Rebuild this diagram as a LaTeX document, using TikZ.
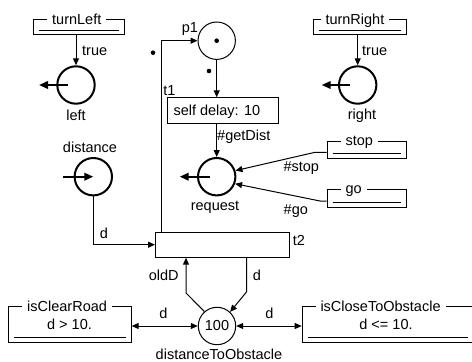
\documentclass[tikz,border=0pt]{standalone}
\usepackage{fontspec}
\setmainfont{Liberation Sans}
\usetikzlibrary{arrows.meta,calc}
\begin{document}
\begin{tikzpicture}[x=1pt,y=-1pt,
  every node/.style={font=\fontsize{14.5}{17}\selectfont, inner sep=0pt},
  >={Triangle[length=7pt,width=6pt]},
  line width=1pt,
  place/.style={draw,circle,minimum size=37.4pt,line width=1pt},
  extplace/.style={draw,circle,minimum size=37.4pt,line width=2pt},
  trans/.style={draw,rectangle,line width=1pt,anchor=north west},
  token/.style={circle,fill,minimum size=4.6pt},
  iface/.style={fill=white,inner xsep=5pt,inner ysep=1pt,anchor=base west},
  lbl/.style={anchor=base},
  lblw/.style={anchor=base west},
  portarrow/.style={line width=2pt,-{Triangle[length=9pt,width=7.5pt]}},
]
\useasboundingbox (0,0) rectangle (472,362);
\clip (0,0) rectangle (472,362);

% ---------- interface boxes ----------
\node[trans,minimum width=91pt,minimum height=15.3pt] (tl) at (33,19) {};
\draw ($(tl.south west)+(6,-5)$) -- ($(tl.south east)+(-6,-5)$);
\node[iface] (tltxt) at (46.7,24.5) {turnLeft};

\node[trans,minimum width=92.7pt,minimum height=15.3pt] (tr) at (313.3,19) {};
\draw ($(tr.south west)+(6,-5)$) -- ($(tr.south east)+(-6,-5)$);
\node[iface] (trtxt) at (320,24.5) {turnRight};

\node[trans,minimum width=79.3pt,minimum height=17.6pt] (stop) at (326.7,140.7) {};
\draw ($(stop.south west)+(6,-6)$) -- ($(stop.south east)+(-6,-6)$);
\node[iface] (stoptxt) at (340,145.5) {stop};

\node[trans,minimum width=79.3pt,minimum height=18.3pt] (go) at (326.7,189) {};
\draw ($(go.south west)+(6,-6.3)$) -- ($(go.south east)+(-6,-6.3)$);
\node[iface] (gotxt) at (340,193) {go};

\node[trans,minimum width=122.4pt,minimum height=35.7pt] (icr) at (8.3,306) {};
\draw ($(icr.south west)+(6,-5.7)$) -- ($(icr.south east)+(-6,-5.7)$);
\node[iface] (icrtxt) at (21.7,311.5) {isClearRoad};
\node[lbl] (icrg) at (69.5,329.3) {d > 10.};

\node[trans,minimum width=171.7pt,minimum height=35.7pt] (ico) at (301.7,306) {};
\draw ($(ico.south west)+(6,-5.7)$) -- ($(ico.south east)+(-6,-5.7)$);
\node[iface] (icotxt) at (315,311.5) {isCloseToObstacle};
\node[lbl] (icog) at (386,329.3) {d <= 10.};

% ---------- places ----------
\node[extplace] (left) at (76,85) {};
\node[lbl] (leftl) at (76,120) {left};
\node[extplace] (right) at (357.7,85) {};
\node[lbl] (rightl) at (362,119.5) {right};
\node[place] (p1) at (216.7,40.7) {};
\node[lbl] (p1l) at (190,32.7) {p1};
\node[token] (tok1) at (p1.center) {};
\node[extplace] (request) at (216.7,176.7) {};
\node[lbl] (requestl) at (215,210) {request};
\node[extplace] (distance) at (93.3,176.7) {};
\node[lbl] (distancel) at (90,152.7) {distance};
\node[place] (dto) at (217,326) {100};
\node[lbl] (dtol) at (219,359) {distanceToObstacle};

% ---------- transitions ----------
\node[trans,minimum width=111pt,minimum height=25.4pt] (t1) at (167,97.3) {};
\node[lblw] (t1txt) at (173,115) {self delay: 10};
\node[lbl] (t1l) at (169.5,95) {t1};
\node[trans,minimum width=134.3pt,minimum height=25pt] (t2) at (155,231.7) {};
\node[lbl] (t2l) at (299,245) {t2};

% ---------- connectors ----------
\draw[->] (left.north |- tl.south) -- (left.north);
\node[lblw] (true1) at (81.7,55) {true};
\draw[->] (right.north |- tr.south) -- (right.north);
\node[lblw] (true2) at (361.7,55) {true};

\draw[portarrow] ([xshift=-8pt]left.center) -- ([xshift=-37pt]left.center);
\draw[portarrow] ([xshift=-8pt]right.center) -- ([xshift=-36pt]right.center);
\draw[portarrow] ([xshift=-7pt]request.center) -- ([xshift=-37pt]request.center);
\draw[portarrow] ([xshift=-30pt]distance.center) -- (distance.center);

\draw[->] ($(t2.north west)+(6,0)$) |- (p1.west);
\node[token] (tok2) at (153,52.7) {};
\draw[->] (p1.south) -- (p1.south |- t1.north);
\node[token] (tok3) at (209,71) {};

\draw[->] (request.north |- t1.south) -- (request.north);
\node[lblw] (getd) at (216.7,140) {\#getDist};

\coordinate (sb) at (315,152.3);
\draw[->] (stop.west |- sb) -- (sb) -- (request.18);
\node[lbl] (stopl) at (301.3,171) {\#stop};
\coordinate (gb) at (320,201);
\draw[->] (go.west |- gb) -- (gb) -- (request.-21);
\node[lbl] (gol) at (295.8,214) {\#go};

\draw[->] (distance.south) |- (t2.west);
\node[lbl] (dl1) at (104,238) {d};

\coordinate (ob) at (186,293);
\draw[->] (dto.131) -- (ob) -- (ob |- t2.south);
\node[lbl] (oldl) at (163.8,280) {oldD};
\coordinate (db) at (246.7,291.7);
\draw[->] (db |- t2.south) -- (db) -- (dto.47);
\node[lbl] (dl2) at (257,280.5) {d};

\draw[<->] (icr.east |- dto.west) -- (dto.west);
\node[lbl] (dl3) at (163.3,318.3) {d};
\draw[<->] (dto.east) -- (ico.west |- dto.east);
\node[lbl] (dl4) at (269.3,318.3) {d};
\end{tikzpicture}
\end{document}
